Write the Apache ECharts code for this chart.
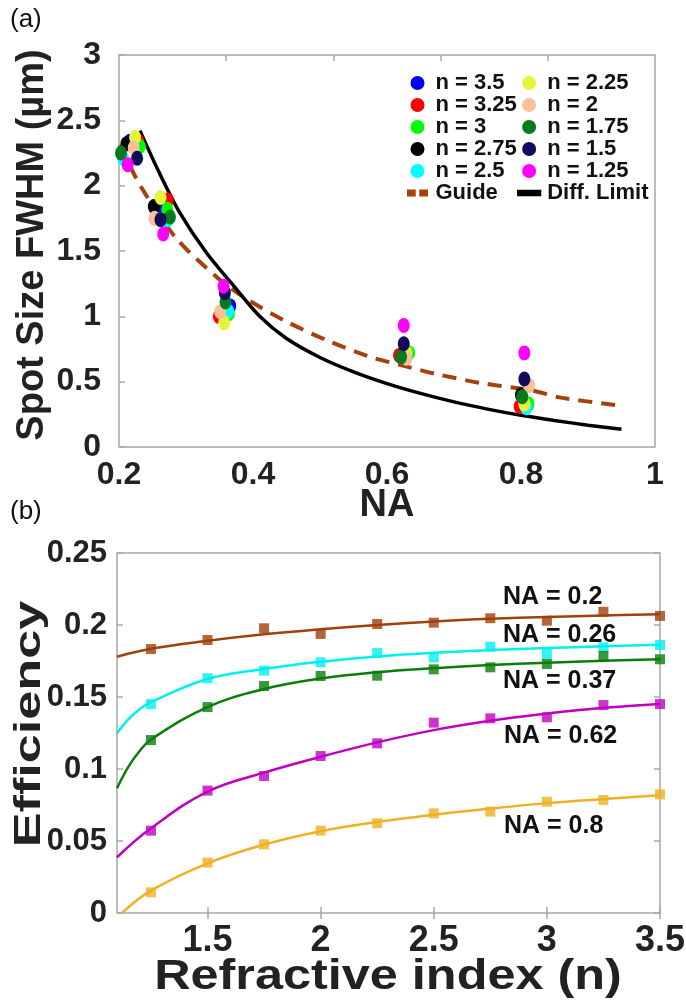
<!DOCTYPE html>
<html>
<head>
<meta charset="utf-8">
<script src="https://cdn.jsdelivr.net/npm/echarts@6/dist/echarts.min.js"></script>
<style>
html,body{margin:0;padding:0;background:#fff;}
#chart{width:686px;height:1005px;}
</style>
</head>
<body>
<div id="chart"></div>
<script>
// ---------------- Panel (a) data: [NA, FWHM (um)] ----------------
const nNames = ['n = 3.5','n = 3.25','n = 3','n = 2.75','n = 2.5','n = 2.25','n = 2','n = 1.75','n = 1.5','n = 1.25'];
const spot_n350 = [[0.216,2.34],[0.261,1.85],[0.366,1.08],[0.623,0.70],[0.810,0.32]];
const spot_n325 = [[0.229,2.34],[0.273,1.89],[0.349,1.00],[0.618,0.70],[0.798,0.31]];
const spot_n300 = [[0.231,2.30],[0.272,1.82],[0.364,1.02],[0.633,0.72],[0.811,0.33]];
const spot_n275 = [[0.211,2.32],[0.252,1.84],[0.361,1.05],[0.625,0.71],[0.800,0.40]];
const spot_n250 = [[0.206,2.21],[0.273,1.74],[0.363,1.04],[0.627,0.70],[0.808,0.30]];
const spot_n225 = [[0.224,2.37],[0.262,1.91],[0.357,0.95],[0.629,0.72],[0.805,0.33]];
const spot_n200 = [[0.222,2.29],[0.253,1.75],[0.351,1.035],[0.629,0.68],[0.812,0.47]];
const spot_n175 = [[0.203,2.25],[0.276,1.76],[0.359,1.11],[0.621,0.69],[0.802,0.385]];
const spot_n150 = [[0.227,2.21],[0.262,1.74],[0.358,1.18],[0.625,0.79],[0.805,0.52]];
const spot_n125 = [[0.213,2.16],[0.266,1.63],[0.356,1.23],[0.625,0.93],[0.805,0.72]];
const guideCurve = [[0.201,2.31],[0.233,1.99],[0.285,1.60],[0.346,1.30],[0.385,1.15],[0.45,0.96],[0.515,0.806],[0.574,0.691],[0.621,0.627],[0.673,0.559],[0.74,0.49],[0.818,0.431],[0.857,0.38],[0.952,0.314]];
const diffLimitCurve = [[0.2313,2.421],[0.26,2.10],[0.29,1.80],[0.33,1.49],[0.37,1.24],[0.41,1.00],[0.45,0.83],[0.50,0.685],[0.55,0.575],[0.60,0.485],[0.65,0.410],[0.70,0.345],[0.75,0.290],[0.80,0.243],[0.85,0.203],[0.90,0.167],[0.95,0.135]];
const naTickLabels = [0.2,0.4,0.6,0.8,1];
const naTopTicks = [0.36,0.52,0.68,0.84];

// ---------------- Panel (b) data ----------------
const refrIndex = [1.25,1.5,1.75,2,2.25,2.5,2.75,3,3.25,3.5];
const eff_NA020 = [0.1833,0.1896,0.1977,0.1938,0.2007,0.2016,0.2047,0.2030,0.2092,0.2063];
const eff_NA026 = [0.1451,0.1630,0.1683,0.1741,0.1805,0.1775,0.1849,0.1799,0.1845,0.1861];
const eff_NA037 = [0.1201,0.1430,0.1576,0.1646,0.1648,0.1692,0.1706,0.1729,0.1785,0.1762];
const eff_NA062 = [0.0572,0.0850,0.0951,0.1090,0.1178,0.1322,0.1352,0.1359,0.1444,0.1451];
const eff_NA080 = [0.0144,0.0350,0.0477,0.0572,0.0623,0.0692,0.0704,0.0773,0.0785,0.0824];
const fit_NA020 = [[1.1,0.178],[1.25,0.1835],[1.5,0.189],[1.75,0.1935],[2,0.197],[2.25,0.200],[2.5,0.2025],[2.75,0.2043],[3,0.2055],[3.25,0.2066],[3.5,0.2075]];
const fit_NA026 = [[1.1,0.1248],[1.15,0.1345],[1.2,0.1415],[1.25,0.1465],[1.5,0.1625],[1.75,0.1695],[2,0.1745],[2.25,0.1782],[2.5,0.1808],[2.75,0.1826],[3,0.1840],[3.25,0.1852],[3.5,0.1862]];
const fit_NA037 = [[1.1,0.0866],[1.15,0.1015],[1.2,0.1125],[1.25,0.1205],[1.5,0.143],[1.75,0.1555],[2,0.1628],[2.25,0.1672],[2.5,0.1700],[2.75,0.1722],[3,0.1738],[3.25,0.1752],[3.5,0.1762]];
const fit_NA062 = [[1.1,0.0387],[1.25,0.0588],[1.5,0.0843],[1.75,0.0975],[2,0.1085],[2.25,0.1185],[2.5,0.1270],[2.75,0.1335],[3,0.1385],[3.25,0.1425],[3.5,0.1452]];
const fit_NA080 = [[1.122,0.0],[1.25,0.0155],[1.5,0.0345],[1.75,0.0475],[2,0.0568],[2.25,0.0632],[2.5,0.0682],[2.75,0.0725],[3,0.0763],[3.25,0.0792],[3.5,0.0818]];
const naLabels = ['NA = 0.2','NA = 0.26','NA = 0.37','NA = 0.62','NA = 0.8'];
const refrTickLabels = [1.5,2,2.5,3,3.5];

// ---------------- styles ----------------
const FONT = 'Liberation Sans, Arial, Helvetica, sans-serif';
const nColors = ['#0000ff','#ff0000','#00ff00','#000000','#00ffff','#e6f53c','#fcbf98','#087a1c','#120b5c','#ff00ff'];
const spotSets = [spot_n350,spot_n325,spot_n300,spot_n275,spot_n250,spot_n225,spot_n200,spot_n175,spot_n150,spot_n125];
const guideColor = '#a5410c';
const effSets = [eff_NA020,eff_NA026,eff_NA037,eff_NA062,eff_NA080];
const fitSets = [fit_NA020,fit_NA026,fit_NA037,fit_NA062,fit_NA080];
const effColors = ['#a0400a','#00f0f0','#0a7d0a','#c000c0','#efb023'];
const ellipse = 'path://M50,0A50,50,0,1,1,50,100A50,50,0,1,1,50,0Z';
const guideIcon = 'path://M0,-4L0,-4M0,0H10V8H0ZM14,0H24V8H14ZM0,12L0,12';
const diffIcon = 'path://M0,-4L0,-4M0,0H26V7H0ZM0,11L0,11';
const frame = '#a8a8a8';

const series = [];
spotSets.forEach((d, i) => {
  series.push({
    name: nNames[i], type: 'scatter', xAxisIndex: 0, yAxisIndex: 0,
    data: d, symbol: ellipse, symbolSize: [12, 15],
    itemStyle: { color: nColors[i], opacity: 1 }, z: 3
  });
});
series.push({
  name: 'Guide', type: 'line', xAxisIndex: 0, yAxisIndex: 0, data: guideCurve,
  smooth: 0.3, showSymbol: false, color: guideColor,
  lineStyle: { color: guideColor, width: 4, type: [14, 9], cap: 'butt' }, z: 2
});
series.push({
  name: 'Diff. Limit', type: 'line', xAxisIndex: 0, yAxisIndex: 0, data: diffLimitCurve,
  smooth: 0.3, showSymbol: false, color: '#000',
  lineStyle: { color: '#000', width: 3.5 }, z: 2
});
fitSets.forEach((d, i) => {
  series.push({
    name: naLabels[i] + ' fit', type: 'line', xAxisIndex: 2, yAxisIndex: 1, data: d,
    smooth: 0.4, showSymbol: false, lineStyle: { color: effColors[i], width: 2.5 }, z: 2
  });
  series.push({
    name: naLabels[i], type: 'scatter', xAxisIndex: 2, yAxisIndex: 1,
    data: refrIndex.map((n, k) => [n, effSets[i][k]]),
    symbol: 'rect', symbolSize: 10, itemStyle: { color: effColors[i] }, z: 3
  });
});

const tickLbl = (size, margin) => ({ fontSize: size, fontWeight: 'bold', color: '#222', fontFamily: FONT, margin: margin });
const annot = naLabels.map((t, i) => ({
  type: 'text', x: [503, 503, 503, 504, 504][i], y: [597, 635, 681, 736, 826][i],
  style: { text: t, font: 'bold 25px ' + FONT, fill: '#111', verticalAlign: 'middle' }, z: 10
}));

const option = {
  animation: false,
  backgroundColor: '#fff',
  grid: [
    { left: 119, top: 55, width: 536, height: 392, show: true, borderColor: frame, borderWidth: 1.5, backgroundColor: 'transparent', outerBoundsMode: 'none', containLabel: false },
    { left: 117, top: 553, width: 543, height: 360, show: true, borderColor: frame, borderWidth: 1.5, backgroundColor: 'transparent', outerBoundsMode: 'none', containLabel: false }
  ],
  xAxis: [
    { gridIndex: 0, type: 'value', min: 0.2, max: 1, interval: 0.2,
      axisLine: { show: false }, axisTick: { show: false }, splitLine: { show: false },
      axisLabel: Object.assign(tickLbl(32, 12), { customValues: naTickLabels }),
      name: 'NA', nameLocation: 'middle', nameGap: 40, nameMoveOverlap: false,
      nameTextStyle: { fontSize: 38, fontWeight: 'bold', color: '#222', fontFamily: FONT, verticalAlign: 'top' } },
    { gridIndex: 0, type: 'value', position: 'top', min: 0.2, max: 1,
      axisLine: { show: false }, splitLine: { show: false }, axisLabel: { show: false },
      axisTick: { show: true, inside: true, length: 6, customValues: naTopTicks, lineStyle: { color: frame, width: 1.5 } } },
    { gridIndex: 1, type: 'value', min: 1.1, max: 3.5,
      axisLine: { show: false }, splitLine: { show: false },
      axisTick: { show: true, inside: true, length: 6, customValues: refrTickLabels, lineStyle: { color: frame, width: 1.5 } },
      axisLabel: Object.assign(tickLbl(36, 10), { customValues: refrTickLabels }) },
    { gridIndex: 1, type: 'value', position: 'top', min: 1.1, max: 3.5,
      axisLine: { show: false }, splitLine: { show: false }, axisLabel: { show: false },
      axisTick: { show: true, inside: true, length: 6, customValues: refrTickLabels, lineStyle: { color: frame, width: 1.5 } } }
  ],
  yAxis: [
    { gridIndex: 0, type: 'value', min: 0, max: 3, interval: 0.5,
      axisLine: { show: false }, splitLine: { show: false },
      axisTick: { show: true, inside: true, length: 6, lineStyle: { color: frame, width: 1.5 } },
      axisLabel: tickLbl(32, 18) },
    { gridIndex: 1, type: 'value', min: 0, max: 0.25, interval: 0.05,
      axisLine: { show: false }, splitLine: { show: false },
      axisTick: { show: true, inside: true, length: 6, lineStyle: { color: frame, width: 1.5 } },
      axisLabel: tickLbl(31, 10) },
    { gridIndex: 1, type: 'value', position: 'right', min: 0, max: 0.25, interval: 0.05,
      axisLine: { show: false }, splitLine: { show: false }, axisLabel: { show: false },
      axisTick: { show: true, inside: true, length: 6, lineStyle: { color: frame, width: 1.5 } } }
  ],
  legend: [
    { data: nNames.slice(0, 5).map(n => ({ name: n, icon: 'circle' })).concat([{ name: 'Guide', icon: guideIcon }]),
      orient: 'vertical', left: 407, top: 72, itemWidth: 26, itemHeight: 14, itemGap: 0, itemTextGap: 4,
      selectedMode: false, padding: 0,
      textStyle: { fontSize: 22, fontWeight: 'bold', color: '#111', fontFamily: FONT, lineHeight: 20 } },
    { data: nNames.slice(5).map(n => ({ name: n, icon: 'circle' })).concat([{ name: 'Diff. Limit', icon: diffIcon }]),
      orient: 'vertical', left: 517, top: 72, itemWidth: 26, itemHeight: 14, itemGap: 0, itemTextGap: 4,
      selectedMode: false, padding: 0,
      textStyle: { fontSize: 22, fontWeight: 'bold', color: '#111', fontFamily: FONT, lineHeight: 20 } }
  ],
  graphic: [
    { type: 'text', x: 10, y: 20, style: { text: '(a)', font: '26px ' + FONT, fill: '#111', verticalAlign: 'middle' } },
    { type: 'text', x: 10, y: 512, style: { text: '(b)', font: '26px ' + FONT, fill: '#111', verticalAlign: 'middle' } },
    { type: 'text', x: 33, y: 245, rotation: Math.PI / 2, style: { text: 'Spot Size FWHM (\u00b5m)', font: 'bold 38px ' + FONT, fill: '#222', align: 'center', verticalAlign: 'middle' } },
    { type: 'text', x: 388, y: 977, scaleX: 1.2, style: { text: 'Refractive index (n)', font: 'bold 42px ' + FONT, fill: '#222', align: 'center', verticalAlign: 'middle' } },
    { type: 'text', x: 30, y: 724, rotation: Math.PI / 2, scaleX: 1.45, style: { text: 'Efficiency', font: 'bold 36px ' + FONT, fill: '#222', align: 'center', verticalAlign: 'middle' } }
  ].concat(annot),
  series: series
};

const chart = echarts.init(document.getElementById('chart'), null, { renderer: 'canvas' });
chart.setOption(option);
</script>
</body>
</html>
